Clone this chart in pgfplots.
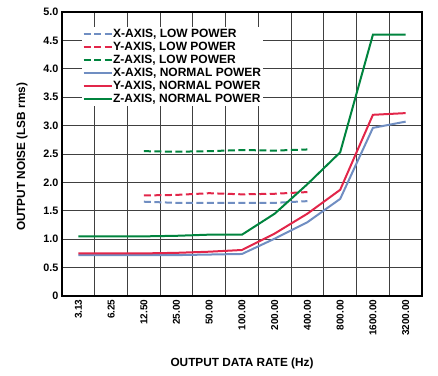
\documentclass[border=0pt]{standalone}
\usepackage{pgfplots}
\pgfplotsset{compat=1.18}
\usepackage{fontspec}
\setmainfont{Liberation Sans}
\definecolor{cblue}{RGB}{112,142,194}
\definecolor{cred}{RGB}{226,38,74}
\definecolor{cgreen}{RGB}{0,132,62}
\begin{document}
\begin{tikzpicture}
\path[use as bounding box] (0pt,0pt) rectangle (438pt,375pt);
\begin{axis}[
  at={(62pt,79pt)}, anchor=south west,
  scale only axis, width=360pt, height=284pt,
  xmin=-0.5, xmax=10.5, ymin=0, ymax=5,
  xtick={0,1,2,3,4,5,6,7,8,9,10},
  xticklabels={3.13,6.25,12.50,25.00,50.00,100.00,200.00,400.00,800.00,1600.00,3200.00},
  x tick label style={rotate=90, anchor=east, font=\fontsize{10}{12}\selectfont\bfseries},
  minor xtick={0.5,1.5,2.5,3.5,4.5,5.5,6.5,7.5,8.5,9.5},
  xminorgrids,
  ytick={0,0.5,1,1.5,2,2.5,3,3.5,4,4.5,5},
  yticklabels={0,0.5,1.0,1.5,2.0,2.5,3.0,3.5,4.0,4.5,5.0},
  y tick label style={font=\fontsize{10.8}{13}\selectfont\bfseries},
  ymajorgrids,
  major tick length=0pt, minor tick length=0pt,
  grid style={black!75, line width=0.9pt},
  minor grid style={black!75, line width=0.9pt},
  axis line style={line width=1.5pt},
  xlabel={OUTPUT DATA RATE (Hz)},
  ylabel={OUTPUT NOISE (LSB rms)},
  label style={font=\fontsize{11.8}{14}\selectfont\bfseries},
  xlabel style={at={(axis description cs:0.5,-0.236)}, anchor=center},
  ylabel style={at={(axis description cs:-0.111,0.49)}, anchor=center},
  legend style={at={(0.054,0.947)}, anchor=north west, draw=none, fill=white,
    inner sep=1pt, row sep=1pt, font=\fontsize{12}{13}\selectfont\bfseries,
    nodes={inner sep=0.5pt, text height=8.5pt, text depth=2.5pt}},
  legend cell align=left,
  every axis plot/.append style={line width=2pt, mark=none,
    legend image code/.code={\draw[##1] (0pt,0pt) -- (28pt,0pt);}},
]
\addplot[cblue, dash pattern=on 7pt off 3.5pt] coordinates {(2,1.66) (3,1.64) (4,1.64) (5,1.64) (6,1.64) (7,1.67)};
\addlegendentry{X-AXIS, LOW POWER}
\addplot[cred, dash pattern=on 7pt off 3.5pt] coordinates {(2,1.77) (3,1.78) (4,1.81) (5,1.79) (6,1.80) (7,1.83)};
\addlegendentry{Y-AXIS, LOW POWER}
\addplot[cgreen, dash pattern=on 7pt off 3.5pt] coordinates {(2,2.55) (3,2.54) (4,2.55) (5,2.57) (6,2.56) (7,2.58)};
\addlegendentry{Z-AXIS, LOW POWER}
\addplot[cblue] coordinates {(0,0.72) (1,0.72) (2,0.72) (3,0.72) (4,0.73) (5,0.74) (6,1.01) (7,1.30) (8,1.71) (9,2.96) (10,3.07)};
\addlegendentry{X-AXIS, NORMAL POWER}
\addplot[cred] coordinates {(0,0.75) (1,0.75) (2,0.75) (3,0.76) (4,0.78) (5,0.81) (6,1.10) (7,1.45) (8,1.87) (9,3.19) (10,3.22)};
\addlegendentry{Y-AXIS, NORMAL POWER}
\addplot[cgreen] coordinates {(0,1.05) (1,1.05) (2,1.05) (3,1.06) (4,1.08) (5,1.08) (6,1.45) (7,1.97) (8,2.53) (9,4.60) (10,4.60)};
\addlegendentry{Z-AXIS, NORMAL POWER}
\end{axis}
\end{tikzpicture}
\end{document}
